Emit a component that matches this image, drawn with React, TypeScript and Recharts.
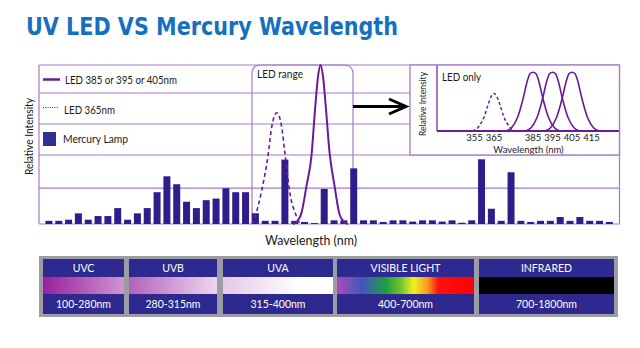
import React from "react";
import { ComposedChart, LineChart, Bar, Line, XAxis, YAxis, CartesianGrid } from "recharts";

const GRID = "#a47cc4";
const LED = "#6a1b9a";
const HG = "#2f1d8c";
const FONT = "Lato, 'Open Sans', sans-serif";

// mercury lamp lines, one bin per bar, % of frame height
const mercury = [
  2, 2, 2.7, 6.7, 2.7, 5, 5, 10, 2.7, 6.7, 10, 20, 30, 25, 14, 10, 15, 16, 22.5, 20,
  20, 6.7, 2, 2, 40.5, 2, 1.3, 0.6, 22, 2.3, 2.3, 35, 2.3, 2.3, 1.3, 2.3, 2.3, 1.5, 2.3, 2.3,
  1.5, 2.3, 0.8, 2.3, 40.7, 9.6, 2, 32.5, 2, 1.3, 2, 2, 4.4, 2, 4.4, 2, 2, 1.3,
];
const gridTicks = [0, 22.6, 43.4, 62.9, 82.4, 100];

// LED curves on the main chart, [bin position, intensity]
const led365Main = [
  [20.67, 0], [20.98, 4.6], [21.66, 21], [22.33, 44], [22.68, 61], [23.22, 70],
  [23.7, 61], [24.04, 44], [24.55, 19], [25.23, 4.6], [25.57, 0],
];
const led395Main = [
  [24.86, 0], [25.26, 1.5], [25.72, 7], [26.23, 24], [26.74, 43], [27.1, 72], [27.41, 93],
  [27.66, 100], [27.91, 93], [28.22, 72], [28.58, 45], [29.09, 24], [29.6, 6], [30.06, 1.5], [30.46, 0],
];

// "LED only" inset, [nm, intensity]
const insetTicks = [355, 365, 385, 395, 405, 415];
const led365 = [
  [354, 0], [357, 6], [360, 22], [362, 40], [363.5, 52], [365, 57],
  [366.5, 52], [368, 40], [370, 22], [373, 6], [376, 0],
];
const led385 = [
  [371, 0], [374, 5], [377, 20], [380, 50], [382, 75], [383.5, 87], [385, 89],
  [386.5, 87], [388, 75], [390, 50], [393, 20], [396, 5], [399, 0],
];
const led395 = [
  [381, 0], [384, 5], [387, 20], [390, 50], [392, 75], [393.5, 87], [395, 89],
  [396.5, 87], [398, 75], [400, 50], [403, 20], [406, 5], [409, 0],
];
const led405 = [
  [391, 0], [394, 5], [397, 20], [400, 50], [402, 75], [403.5, 87], [405, 89],
  [406.5, 87], [408, 75], [410, 50], [413, 20], [416, 5], [419, 0],
];

const bands = [
  { name: "UVC", range: "100-280nm", x0: 43, x1: 124, grad: "gUVC" },
  { name: "UVB", range: "280-315nm", x0: 129, x1: 217, grad: "gUVB" },
  { name: "UVA", range: "315-400nm", x0: 223, x1: 333, grad: "gUVA" },
  { name: "VISIBLE LIGHT", range: "400-700nm", x0: 337, x1: 474, grad: "gVIS" },
  { name: "INFRARED", range: "700-1800nm", x0: 479, x1: 614, grad: "gIR" },
];

const pts = (arr: number[][]) => arr.map(([x, v]) => ({ x, v }));

export default function App() {
  const hgData = mercury.map((v, i) => ({ bin: i, hg: v }));
  return (
    <div style={{ position: "absolute", left: 0, top: 0, width: 640, height: 348, background: "#fff", overflow: "hidden" }}>
      {/* frame sides and LED range box, under the bars */}
      <svg width={640} height={348} style={{ position: "absolute", left: 0, top: 0 }}>
        <line x1={39} y1={65} x2={39} y2={224} stroke={GRID} strokeWidth={1.2} />
        <line x1={619.5} y1={65} x2={619.5} y2={224} stroke={GRID} strokeWidth={1.2} />
        <path d="M252,224 V74 Q252,65 261,65 H344 Q353,65 353,74 V224" fill="none" stroke={GRID} strokeWidth={1.2} />
      </svg>

      <div style={{ position: "absolute", left: 0, top: 0 }}>
        <ComposedChart width={640} height={348} data={hgData} margin={{ top: 65, right: 20, bottom: 124, left: 39 }}>
          <CartesianGrid vertical={false} stroke={GRID} strokeWidth={1.2} />
          <XAxis xAxisId="bins" type="category" dataKey="bin" hide padding={{ left: 5.4, right: 5.3 }} />
          <XAxis xAxisId="pos" type="number" dataKey="x" domain={[-1.046, 58.197]} hide />
          <YAxis type="number" domain={[0, 100]} ticks={gridTicks} hide />
          <Bar xAxisId="bins" dataKey="hg" fill={HG} barSize={7} isAnimationActive={false} />
          <Line xAxisId="pos" data={pts(led365Main)} dataKey="v" type="monotone" stroke={LED} strokeWidth={1.6}
            strokeDasharray="4 3" dot={false} isAnimationActive={false} />
          <Line xAxisId="pos" data={pts(led395Main)} dataKey="v" type="monotone" stroke={LED} strokeWidth={2}
            dot={false} isAnimationActive={false} />
        </ComposedChart>
      </div>

      <div style={{ position: "absolute", left: 410, top: 65, width: 210, height: 90, background: "#fff" }}>
        <LineChart width={210} height={90} margin={{ top: 0, right: 0, bottom: 0, left: 0 }}>
          <XAxis type="number" dataKey="x" domain={[335.77, 429.6]} ticks={insetTicks} interval={0}
            height={24} tickSize={0} tickMargin={3} tickLine={false}
            tick={{ fontSize: 9.5, fill: "#222", fontFamily: FONT }}
            axisLine={{ stroke: LED, strokeWidth: 2 }}
            label={{ value: "Wavelength (nm)", position: "insideBottom", offset: 2, fontSize: 9.5, fill: "#222", fontFamily: FONT }} />
          <YAxis type="number" domain={[0, 100]} width={27} tick={false} tickLine={false}
            axisLine={{ stroke: LED, strokeWidth: 1.2 }} />
          <Line data={pts(led365)} dataKey="v" type="monotone" stroke={LED} strokeWidth={1.5}
            strokeDasharray="3 2.5" dot={false} isAnimationActive={false} />
          <Line data={pts(led385)} dataKey="v" type="monotone" stroke={LED} strokeWidth={1.6} dot={false} isAnimationActive={false} />
          <Line data={pts(led395)} dataKey="v" type="monotone" stroke={LED} strokeWidth={1.6} dot={false} isAnimationActive={false} />
          <Line data={pts(led405)} dataKey="v" type="monotone" stroke={LED} strokeWidth={1.6} dot={false} isAnimationActive={false} />
        </LineChart>
      </div>

      {/* title, legend, labels and the spectrum band */}
      <svg width={640} height={348} style={{ position: "absolute", left: 0, top: 0, pointerEvents: "none" }}>
        <defs>
          <linearGradient id="gUVC" x1="0" x2="1" y1="0" y2="0">
            <stop offset="0" stopColor="#9a1f9e" />
            <stop offset="1" stopColor="#cf94d2" />
          </linearGradient>
          <linearGradient id="gUVB" x1="0" x2="1" y1="0" y2="0">
            <stop offset="0" stopColor="#b262ba" />
            <stop offset="1" stopColor="#eed6f0" />
          </linearGradient>
          <linearGradient id="gUVA" x1="0" x2="1" y1="0" y2="0">
            <stop offset="0" stopColor="#e4c8e8" />
            <stop offset="0.7" stopColor="#ffffff" />
            <stop offset="1" stopColor="#ffffff" />
          </linearGradient>
          <linearGradient id="gVIS" x1="0" x2="1" y1="0" y2="0">
            <stop offset="0" stopColor="#b04ab4" />
            <stop offset="0.18" stopColor="#3f56c2" />
            <stop offset="0.36" stopColor="#1fa040" />
            <stop offset="0.46" stopColor="#6cc030" />
            <stop offset="0.56" stopColor="#f0f020" />
            <stop offset="0.66" stopColor="#f59a20" />
            <stop offset="0.74" stopColor="#ff1010" />
            <stop offset="1" stopColor="#ff0000" />
          </linearGradient>
          <linearGradient id="gIR" x1="0" x2="1" y1="0" y2="0">
            <stop offset="0" stopColor="#000" />
            <stop offset="1" stopColor="#000" />
          </linearGradient>
        </defs>

        <text x={26} y={35} fontFamily="'DejaVu Sans', sans-serif" fontWeight={700} fontSize={24}
          fill="#1570be" textLength={372} lengthAdjust="spacingAndGlyphs">UV LED VS Mercury Wavelength</text>

        <g fontFamily={FONT} fill="#1a1a1a">
          <line x1={43} y1={79.5} x2={60} y2={79.5} stroke={LED} strokeWidth={2.5} />
          <text x={65} y={84} fontSize={11} textLength={112} lengthAdjust="spacingAndGlyphs">LED 385 or 395 or 405nm</text>
          <line x1={43} y1={107.5} x2={59} y2={107.5} stroke="#333" strokeWidth={1.2} strokeDasharray="1 1.3" />
          <text x={64} y={113.7} fontSize={11} textLength={51} lengthAdjust="spacingAndGlyphs">LED 365nm</text>
          <rect x={43} y={132} width={13} height={14} fill="#2e3192" />
          <text x={63} y={143.3} fontSize={11} textLength={65} lengthAdjust="spacingAndGlyphs">Mercury Lamp</text>

          <text x={257} y={78.3} fontSize={11} textLength={46} lengthAdjust="spacingAndGlyphs">LED range</text>
          <text transform="translate(32.5,136.5) rotate(-90)" textAnchor="middle" fontSize={11}
            textLength={77} lengthAdjust="spacingAndGlyphs">Relative Intensity</text>
          <text x={311} y={245} textAnchor="middle" fontSize={13} textLength={92} lengthAdjust="spacingAndGlyphs">Wavelength (nm)</text>

          <rect x={410} y={65} width={209.5} height={90} fill="none" stroke={GRID} strokeWidth={1.3} />
          <text x={442} y={80.7} fontSize={11} textLength={39} lengthAdjust="spacingAndGlyphs">LED only</text>
          <text transform="translate(426,104) rotate(-90)" textAnchor="middle" fontSize={9.5}
            textLength={64} lengthAdjust="spacingAndGlyphs">Relative Intensity</text>
        </g>

        <line x1={353} y1={106.5} x2={404} y2={106.5} stroke="#000" strokeWidth={3} />
        <polyline points="389,99 406,106.5 389,114" fill="none" stroke="#000" strokeWidth={3} />

        <rect x={39} y={256} width={579} height={61} fill="#9c9ca4" />
        {bands.map((b) => (
          <g key={b.name}>
            <rect x={b.x0} y={259} width={b.x1 - b.x0} height={55} fill="#2e298e" />
            <rect x={b.x0} y={277} width={b.x1 - b.x0} height={17} fill={`url(#${b.grad})`} />
            <text x={(b.x0 + b.x1) / 2} y={272} textAnchor="middle" fontSize={10.5} fill="#fff" fontFamily={FONT}>{b.name}</text>
            <text x={(b.x0 + b.x1) / 2} y={308} textAnchor="middle" fontSize={10.5} fill="#fff" fontFamily={FONT}>{b.range}</text>
          </g>
        ))}
      </svg>
    </div>
  );
}
